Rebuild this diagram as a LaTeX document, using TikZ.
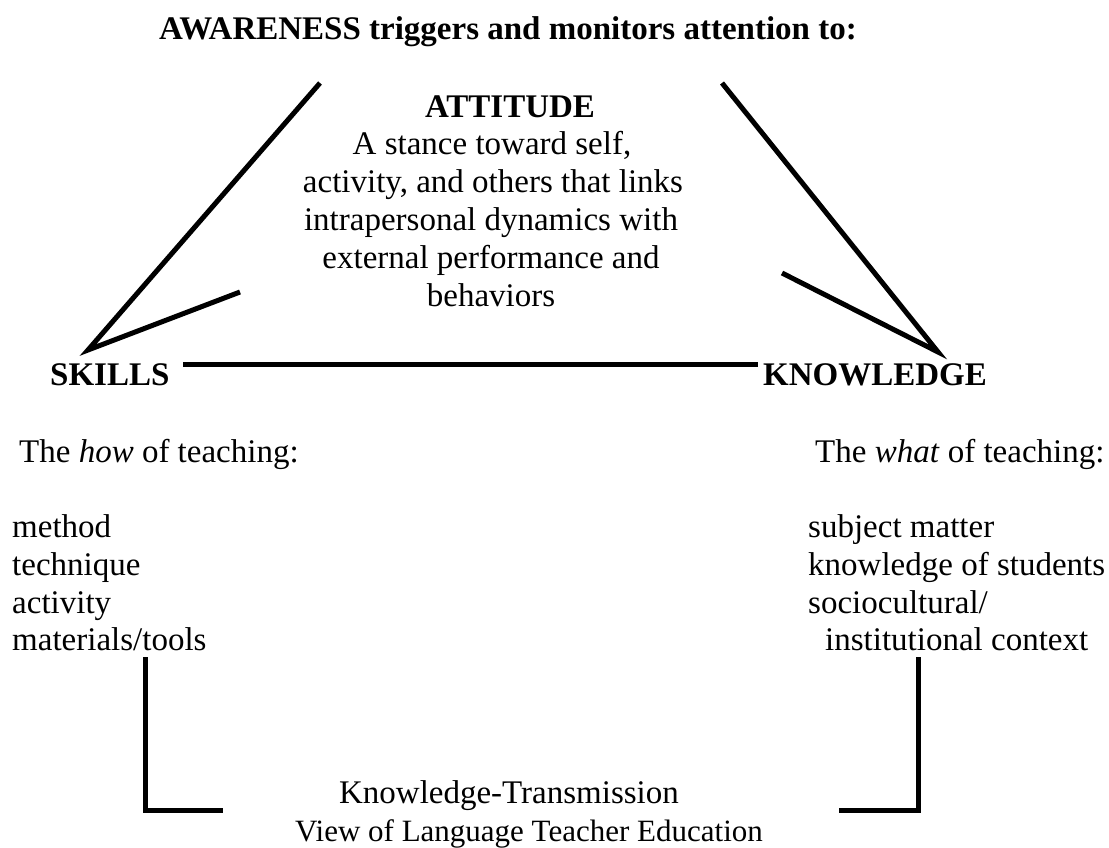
\documentclass[tikz,border=0pt]{standalone}
\usepackage{fontspec}
\setmainfont{Liberation Serif}
\begin{document}
\begin{tikzpicture}[x=1pt,y=-1pt,
  txt/.style={inner sep=0pt,font=\fontsize{33}{38}\selectfont},
  btxt/.style={txt,font=\fontsize{33}{38}\selectfont\bfseries},
  ln/.style={line width=5pt}]
\useasboundingbox (0,0) rectangle (1109,848);
\node[btxt,anchor=base] (title) at (508,40) {AWARENESS triggers and monitors attention to:};
\node[btxt,anchor=base] (att) at (510,118) {ATTITUDE};
\node[txt,anchor=base] (a1) at (492,155) {A stance toward self,};
\node[txt,anchor=base] (a2) at (493,193) {activity, and others that links};
\node[txt,anchor=base] (a3) at (491,230) {intrapersonal dynamics with};
\node[txt,anchor=base] (a4) at (491,268) {external performance and};
\node[txt,anchor=base] (a5) at (491,306) {behaviors};
\node[btxt,anchor=base west] (skills) at (50,385) {SKILLS};
\node[btxt,anchor=base west] (know) at (763,385) {KNOWLEDGE};
\node[txt,anchor=base west] (how) at (19,462) {The \textit{how} of teaching:};
\node[txt,anchor=base west] (what) at (815,462) {The \textit{what} of teaching:};
\node[txt,anchor=base west] (h1) at (12,537) {method};
\node[txt,anchor=base west] (h2) at (12,575) {technique};
\node[txt,anchor=base west] (h3) at (12,613) {activity};
\node[txt,anchor=base west] (h4) at (12,650) {materials/tools};
\node[txt,anchor=base west] (w1) at (808,537) {subject matter};
\node[txt,anchor=base west] (w2) at (808,575) {knowledge of students};
\node[txt,anchor=base west] (w3) at (808,613) {sociocultural/};
\node[txt,anchor=base west] (w4) at (825,650) {institutional context};
\node[txt,anchor=base] (k1) at (509,803) {Knowledge-Transmission};
\node[txt,anchor=base,font=\fontsize{31}{36}\selectfont] (k2) at (529,841) {View of Language Teacher Education};
\coordinate (sk) at (88,350);
\coordinate (kn) at (938,352);
\coordinate (lt) at (320,83);
\coordinate (li) at (240,292);
\coordinate (rt) at (722,83);
\coordinate (ri) at (782,273);
\coordinate (hl) at (183,364);
\coordinate (hr) at (758,364);
\coordinate (bl1) at (145,657);
\coordinate (bl2) at (145,810);
\coordinate (bl3) at (223,810);
\coordinate (br1) at (918,657);
\coordinate (br2) at (918,810);
\coordinate (br3) at (839,810);
\draw[ln] (lt) -- (sk) -- (li);
\draw[ln] (rt) -- (kn) -- (ri);
\draw[ln] (hl) -- (hr);
\draw[ln] (bl1) -- (bl2) -- (bl3);
\draw[ln] (br1) -- (br2) -- (br3);
\end{tikzpicture}
\end{document}
